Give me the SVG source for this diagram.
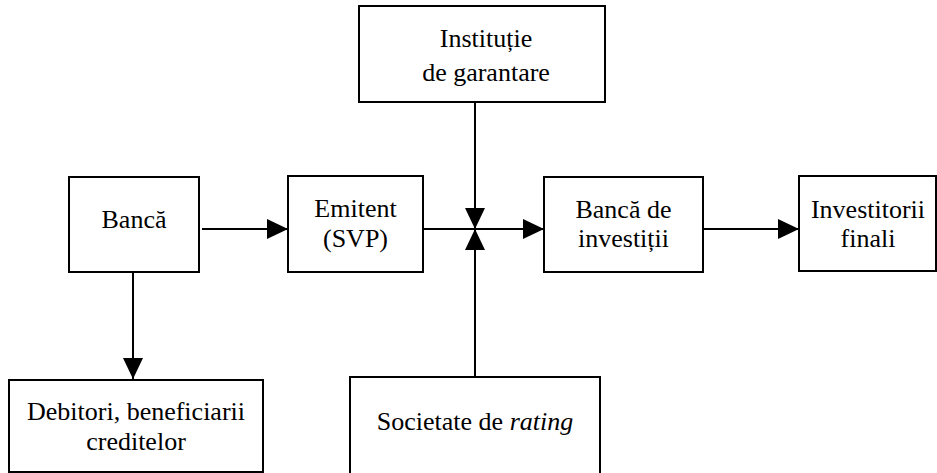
<svg xmlns="http://www.w3.org/2000/svg" width="937" height="473" viewBox="0 0 937 473">
<style>
.box{fill:#fff;stroke:#000;stroke-width:2}
.lbl{font-size:26px;fill:#000;text-anchor:middle}
.con{stroke:#000;stroke-width:2;fill:none;marker-end:url(#ah)}
</style>
<defs>
<marker id="ah" viewBox="0 0 21 20" refX="21" refY="10" markerWidth="21" markerHeight="20" markerUnits="userSpaceOnUse" orient="auto">
<path d="M0,0 L21,10 L0,20 Z" fill="#000"/>
</marker>
</defs>
<rect width="937" height="473" fill="#fff"/>
<g id="connectors">
<line class="con" x1="202" y1="229" x2="288" y2="229"/>
<line class="con" x1="133" y1="272" x2="133" y2="379"/>
<line class="con" x1="423" y1="229" x2="544" y2="229"/>
<line class="con" x1="475" y1="102" x2="475" y2="229"/>
<line class="con" x1="475" y1="377" x2="475" y2="229"/>
<line class="con" x1="703" y1="229" x2="799" y2="229"/>
</g>
<g font-family="Liberation Serif, Tinos, Times New Roman, serif">
<g id="banca">
<rect class="box" x="69" y="177" width="130" height="95"/>
<text class="lbl" x="134" y="228">Bancă</text>
</g>
<g id="emitent">
<rect class="box" x="288" y="176" width="135" height="96"/>
<text class="lbl" x="355.5" y="217">Emitent</text>
<text class="lbl" x="355.5" y="247">(SVP)</text>
</g>
<g id="institutie">
<rect class="box" x="359" y="6" width="246" height="96"/>
<text class="lbl" x="486" y="47">Instituție</text>
<text class="lbl" x="486" y="81">de garantare</text>
</g>
<g id="banca-investitii">
<rect class="box" x="544" y="177" width="159" height="95"/>
<text class="lbl" x="623.5" y="218">Bancă de</text>
<text class="lbl" x="623.5" y="247">investiții</text>
</g>
<g id="investitorii">
<rect class="box" x="799" y="176" width="137" height="95"/>
<text class="lbl" x="868" y="218">Investitorii</text>
<text class="lbl" x="868" y="247">finali</text>
</g>
<g id="debitori">
<rect class="box" x="9" y="380" width="254" height="92"/>
<text class="lbl" x="136" y="420">Debitori, beneficiarii</text>
<text class="lbl" x="136" y="450">creditelor</text>
</g>
<g id="societate">
<rect class="box" x="350" y="377" width="250" height="100"/>
<text class="lbl" x="475" y="430">Societate de <tspan font-style="italic">rating</tspan></text>
</g>
</g>
</svg>
